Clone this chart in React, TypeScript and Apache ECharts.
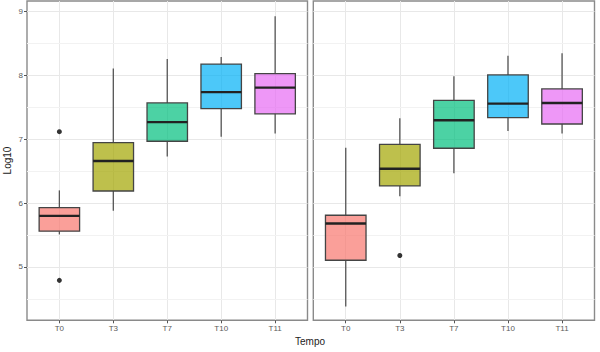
import React, { useEffect, useRef } from "react";
import * as echarts from "echarts";

const categories = ["T0", "T3", "T7", "T10", "T11"];
const yTicks = [5, 6, 7, 8, 9];
const yMinor = [4.5, 5.5, 6.5, 7.5, 8.5];
const Y_MIN = 4.164;
const Y_MAX = 9.168;

// [low whisker, Q1, median, Q3, high whisker]
const leftBoxes = [
  [5.51, 5.56, 5.8, 5.93, 6.2],
  [5.88, 6.19, 6.66, 6.95, 8.11],
  [6.73, 6.97, 7.27, 7.57, 8.26],
  [7.04, 7.48, 7.74, 8.18, 8.29],
  [7.09, 7.4, 7.81, 8.03, 8.93],
];
const leftOutliers: [string, number][] = [
  ["T0", 7.12],
  ["T0", 4.79],
];
const rightBoxes = [
  [4.38, 5.105, 5.68, 5.81, 6.87],
  [6.11, 6.27, 6.54, 6.92, 7.33],
  [6.47, 6.86, 7.3, 7.61, 7.99],
  [7.13, 7.34, 7.56, 8.01, 8.31],
  [7.09, 7.24, 7.57, 7.79, 8.35],
];
const rightOutliers: [string, number][] = [["T3", 5.18]];

const fills = [
  "rgba(248,118,109,0.7)",
  "rgba(163,165,0,0.7)",
  "rgba(0,191,125,0.7)",
  "rgba(0,176,246,0.7)",
  "rgba(231,107,243,0.7)",
];

const FONT = "Liberation Sans, Arial, sans-serif";

export default function App() {
  const ref = useRef<HTMLDivElement>(null);
  useEffect(() => {
    if (!ref.current) return;
    const chart = echarts.init(ref.current, null, { renderer: "svg" });

    const panels = [
      { left: 27, right: 307.5, boxes: leftBoxes, outliers: leftOutliers, showY: true },
      { left: 313.3, right: 594.5, boxes: rightBoxes, outliers: rightOutliers, showY: false },
    ];
    const top = 1;
    const bottom = 320.3;
    const height = bottom - top;

    const grid: any[] = [];
    const xAxis: any[] = [];
    const yAxis: any[] = [];
    const series: any[] = [];

    panels.forEach((p, i) => {
      const w = p.right - p.left;
      const s = w / 5.2;
      const pg = i * 2;
      const dg = i * 2 + 1;
      grid.push({
        left: p.left,
        top,
        width: w,
        height,
        show: true,
        borderColor: "#8a8a8a",
        borderWidth: 1.4,
        backgroundColor: "transparent",
      });
      grid.push({
        left: p.left + 0.6 * s,
        top,
        width: 4 * s,
        height,
      });
      xAxis.push({ type: "value", gridIndex: pg, min: 0, max: 1, show: false });
      xAxis.push({
        type: "category",
        gridIndex: dg,
        data: categories,
        boundaryGap: false,
        axisLine: { show: false },
        axisTick: { show: true, length: 3, interval: 0, lineStyle: { color: "#555", width: 1 } },
        axisLabel: { fontSize: 8, color: "#5a5a5a", margin: 4, interval: 0, fontFamily: FONT },
        splitLine: { show: true, interval: 0, lineStyle: { color: "#E8E8E8", width: 1 } },
      });
      yAxis.push({
        type: "value",
        gridIndex: pg,
        min: Y_MIN,
        max: Y_MAX,
        axisLine: { show: false },
        axisTick: {
          show: p.showY,
          length: 3,
          interval: 0,
          customValues: yTicks,
          lineStyle: { color: "#555", width: 1 },
        },
        axisLabel: {
          show: p.showY,
          customValues: yTicks,
          interval: 0,
          hideOverlap: false,
          showMinLabel: true,
          showMaxLabel: true,
          fontSize: 8,
          color: "#5a5a5a",
          margin: 4,
          fontFamily: FONT,
        },
        splitLine: { show: true, lineStyle: { color: "#E8E8E8", width: 1 } },
      });
      yAxis.push({ type: "value", gridIndex: dg, min: Y_MIN, max: Y_MAX, show: false });

      series.push({
        type: "scatter",
        xAxisIndex: pg,
        yAxisIndex: pg,
        data: [],
        silent: true,
        z: 1,
        markLine: {
          silent: true,
          z: 1,
          symbol: "none",
          label: { show: false },
          lineStyle: { color: "#F2F2F2", width: 1, type: "solid" },
          data: yMinor.map((v) => ({ yAxis: v })),
        },
      });

      series.push({
        type: "custom",
        xAxisIndex: dg,
        yAxisIndex: dg,
        clip: false,
        z: 6,
        data: p.boxes.map((b, k) => [k, ...b]),
        encode: { x: 0, y: [1, 2, 3, 4, 5] },
        renderItem: (params: any, api: any) => {
          const idx = api.value(0);
          const lo = api.coord([idx, api.value(1)]);
          const q1 = api.coord([idx, api.value(2)]);
          const md = api.coord([idx, api.value(3)]);
          const q3 = api.coord([idx, api.value(4)]);
          const hi = api.coord([idx, api.value(5)]);
          const bw = api.size([1, 0])[0] * 0.75;
          const cx = md[0];
          const stroke = "#444";
          return {
            type: "group",
            children: [
              {
                type: "line",
                shape: { x1: cx, y1: hi[1], x2: cx, y2: q3[1] },
                style: { stroke: "#555", lineWidth: 1.3 },
              },
              {
                type: "line",
                shape: { x1: cx, y1: q1[1], x2: cx, y2: lo[1] },
                style: { stroke: "#555", lineWidth: 1.3 },
              },
              {
                type: "rect",
                shape: { x: cx - bw / 2, y: q3[1], width: bw, height: q1[1] - q3[1] },
                style: { fill: fills[params.dataIndex], stroke, lineWidth: 1.3 },
              },
              {
                type: "line",
                shape: { x1: cx - bw / 2, y1: md[1], x2: cx + bw / 2, y2: md[1] },
                style: { stroke: "#222", lineWidth: 2.4 },
              },
            ],
          };
        },
      });

      series.push({
        type: "scatter",
        xAxisIndex: dg,
        yAxisIndex: dg,
        clip: false,
        z: 7,
        symbolSize: 5,
        itemStyle: { color: "#333", opacity: 1 },
        data: p.outliers,
      });
    });

    chart.setOption({
      animation: false,
      backgroundColor: "#fff",
      grid,
      xAxis,
      yAxis,
      series,
      graphic: [
        {
          type: "text",
          x: 310,
          y: 341.7,
          style: {
            text: "Tempo",
            fontSize: 10,
            fill: "#222",
            fontFamily: FONT,
            align: "center",
            verticalAlign: "middle",
          },
        },
        {
          type: "text",
          x: 7,
          y: 160.5,
          rotation: Math.PI / 2,
          style: {
            text: "Log10",
            fontSize: 10,
            fill: "#222",
            fontFamily: FONT,
            align: "center",
            verticalAlign: "middle",
          },
        },
      ],
    });
    return () => chart.dispose();
  }, []);
  return <div ref={ref} style={{ width: 600, height: 352, position: "absolute", left: 0, top: 0 }} />;
}
